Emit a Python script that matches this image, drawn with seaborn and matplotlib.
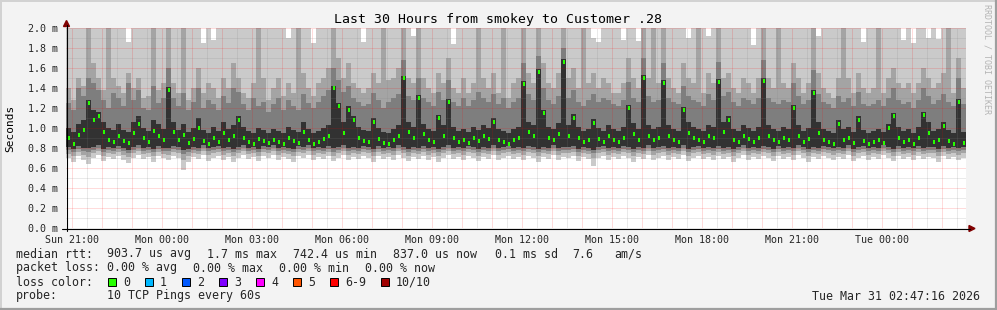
import numpy as np
import matplotlib
matplotlib.use("Agg")
import matplotlib.pyplot as plt
from matplotlib.patches import Rectangle, Polygon
from matplotlib.lines import Line2D
import seaborn as sns

# ---------------- data (values in hundredths of a millisecond) ----------------
# 180 samples, 10 minutes apart, starting Sun 20:47:16 (30 hours)
STEP_H = 1.0 / 6.0

median_rtt = [
    90, 84, 93, 98, 125, 108, 112, 96, 88, 86,
    92, 87, 85, 95, 104, 90, 86, 97, 92, 88,
    138, 96, 88, 93, 85, 89, 100, 87, 84, 90,
    86, 95, 88, 92, 108, 90, 86, 84, 89, 87,
    85, 88, 86, 84, 90, 87, 85, 96, 88, 84,
    86, 89, 92, 140, 122, 95, 118, 108, 90, 87,
    86, 106, 89, 85, 84, 88, 92, 150, 96, 90,
    130, 94, 88, 86, 110, 92, 126, 90, 86, 88,
    85, 90, 87, 92, 89, 106, 88, 86, 84, 88,
    90, 144, 96, 92, 156, 115, 90, 88, 94, 166,
    92, 110, 90, 86, 88, 105, 89, 86, 92, 88,
    86, 90, 120, 94, 88, 150, 92, 88, 90, 145,
    92, 88, 86, 118, 95, 90, 88, 86, 92, 90,
    146, 96, 108, 88, 86, 92, 89, 86, 90, 147,
    92, 88, 86, 90, 88, 120, 92, 86, 89, 135,
    95, 88, 86, 84, 104, 88, 90, 85, 108, 87,
    84, 86, 88, 85, 100, 112, 90, 86, 88, 84,
    90, 113, 95, 86, 88, 102, 87, 84, 126, 85,
]

# sorted pings: p1 (min) .. p10 (max)
smoke_p1 = [
    70, 66, 72, 68, 64, 70, 73, 67, 71, 69,
    72, 68, 65, 70, 73, 69, 71, 66, 72, 70,
    68, 72, 70, 58, 66, 71, 69, 73, 67, 70,
    72, 68, 71, 66, 70, 73, 69, 71, 67, 72,
    70, 73, 68, 71, 69, 66, 72, 70, 73, 68,
    71, 69, 72, 67, 70, 73, 68, 71, 69, 72,
    70, 66, 72, 69, 71, 68, 73, 70, 67, 71,
    69, 72, 68, 71, 66, 70, 73, 69, 71, 68,
    72, 70, 67, 71, 69, 73, 68, 70, 72, 69,
    71, 68, 72, 70, 66, 71, 69, 73, 68, 71,
    70, 72, 67, 71, 69, 62, 70, 72, 68, 71,
    69, 72, 70, 66, 71, 69, 73, 68, 70, 72,
    68, 71, 69, 73, 67, 70, 72, 69, 71, 68,
    72, 69, 71, 66, 70, 73, 68, 71, 69, 72,
    70, 67, 72, 69, 71, 68, 73, 70, 66, 71,
    69, 72, 70, 68, 71, 69, 73, 67, 70, 72,
    68, 71, 69, 73, 70, 67, 72, 69, 71, 68,
    72, 69, 71, 70, 66, 72, 69, 71, 68, 70,
]
smoke_p2 = [
    74, 72, 76, 73, 71, 75, 77, 72, 75, 74,
    76, 73, 71, 75, 77, 74, 75, 72, 76, 74,
    73, 76, 75, 68, 72, 75, 74, 77, 73, 75,
    76, 73, 75, 72, 75, 77, 74, 75, 72, 76,
    75, 77, 73, 75, 74, 72, 76, 75, 77, 73,
    75, 74, 76, 72, 75, 77, 73, 75, 74, 76,
    75, 72, 76, 74, 75, 73, 77, 75, 72, 75,
    74, 76, 73, 75, 72, 75, 77, 74, 75, 73,
    76, 75, 72, 75, 74, 77, 73, 75, 76, 74,
    75, 73, 76, 75, 72, 75, 74, 77, 73, 75,
    75, 76, 72, 75, 74, 70, 75, 76, 73, 75,
    74, 76, 75, 72, 75, 74, 77, 73, 75, 76,
    73, 75, 74, 77, 72, 75, 76, 74, 75, 73,
    76, 74, 75, 72, 75, 77, 73, 75, 74, 76,
    75, 72, 76, 74, 75, 73, 77, 75, 72, 75,
    74, 76, 75, 73, 75, 74, 77, 72, 75, 76,
    73, 75, 74, 77, 75, 72, 76, 74, 75, 73,
    76, 74, 75, 75, 72, 76, 74, 75, 73, 75,
]
smoke_p3 = [
    78, 76, 79, 77, 76, 78, 80, 76, 78, 77,
    79, 77, 75, 78, 80, 77, 78, 76, 79, 77,
    77, 79, 78, 74, 76, 78, 77, 80, 77, 78,
    79, 77, 78, 76, 78, 80, 77, 78, 76, 79,
    78, 80, 77, 78, 77, 76, 79, 78, 80, 77,
    78, 77, 79, 76, 78, 80, 77, 78, 77, 79,
    78, 76, 79, 77, 78, 77, 80, 78, 76, 78,
    77, 79, 77, 78, 76, 78, 80, 77, 78, 77,
    79, 78, 76, 78, 77, 80, 77, 78, 79, 77,
    78, 77, 79, 78, 76, 78, 77, 80, 77, 78,
    78, 79, 76, 78, 77, 75, 78, 79, 77, 78,
    77, 79, 78, 76, 78, 77, 80, 77, 78, 79,
    77, 78, 77, 80, 76, 78, 79, 77, 78, 77,
    79, 77, 78, 76, 78, 80, 77, 78, 77, 79,
    78, 76, 79, 77, 78, 77, 80, 78, 76, 78,
    77, 79, 78, 77, 78, 77, 80, 76, 78, 79,
    77, 78, 77, 80, 78, 76, 79, 77, 78, 77,
    79, 77, 78, 78, 76, 79, 77, 78, 77, 78,
]
smoke_p4 = [
    81, 79, 82, 80, 80, 81, 83, 79, 81, 80,
    82, 80, 78, 81, 83, 80, 81, 79, 82, 80,
    80, 82, 81, 78, 79, 81, 80, 83, 80, 81,
    82, 80, 81, 79, 81, 83, 80, 81, 79, 82,
    81, 83, 80, 81, 80, 79, 82, 81, 83, 80,
    81, 80, 82, 80, 81, 83, 80, 81, 80, 82,
    81, 79, 82, 80, 81, 80, 83, 81, 79, 81,
    80, 82, 80, 81, 79, 81, 83, 80, 81, 80,
    82, 81, 79, 81, 80, 83, 80, 81, 82, 80,
    81, 80, 82, 81, 79, 81, 80, 83, 80, 81,
    81, 82, 79, 81, 80, 78, 81, 82, 80, 81,
    80, 82, 81, 79, 81, 80, 83, 80, 81, 82,
    80, 81, 80, 83, 79, 81, 82, 80, 81, 80,
    82, 80, 81, 79, 81, 83, 80, 81, 80, 82,
    81, 79, 82, 80, 81, 80, 83, 81, 79, 81,
    80, 82, 81, 80, 81, 80, 83, 79, 81, 82,
    80, 81, 80, 83, 81, 79, 82, 80, 81, 80,
    82, 80, 81, 81, 79, 82, 80, 81, 80, 81,
]
smoke_p7 = [
    100, 96, 104, 108, 128, 118, 116, 106, 100, 98,
    104, 98, 96, 106, 112, 100, 97, 108, 104, 99,
    141, 106, 98, 104, 96, 100, 110, 98, 95, 101,
    97, 106, 99, 103, 112, 101, 97, 95, 100, 98,
    95, 99, 97, 95, 101, 98, 96, 106, 99, 95,
    97, 100, 103, 142, 125, 106, 122, 112, 101, 98,
    97, 110, 100, 96, 95, 99, 103, 152, 106, 101,
    133, 104, 99, 97, 113, 103, 129, 101, 97, 99,
    96, 101, 98, 103, 100, 110, 99, 97, 95, 99,
    101, 147, 106, 103, 159, 118, 101, 99, 105, 169,
    103, 114, 101, 97, 99, 109, 100, 97, 103, 99,
    97, 101, 123, 105, 99, 153, 103, 99, 101, 148,
    103, 99, 97, 121, 106, 101, 99, 97, 103, 101,
    149, 106, 112, 99, 97, 103, 100, 97, 101, 150,
    103, 99, 97, 101, 99, 123, 103, 97, 100, 138,
    106, 99, 97, 95, 108, 99, 101, 96, 112, 98,
    95, 97, 99, 96, 104, 115, 101, 97, 99, 95,
    101, 116, 106, 97, 99, 106, 98, 95, 129, 96,
]
smoke_p8 = [
    125, 118, 140, 132, 150, 145, 138, 128, 120, 135,
    130, 122, 145, 128, 138, 120, 118, 142, 125, 130,
    160, 130, 122, 135, 118, 126, 140, 120, 128, 124,
    118, 132, 125, 140, 136, 124, 118, 130, 122, 126,
    116, 124, 130, 118, 128, 122, 118, 134, 125, 120,
    126, 132, 138, 160, 148, 136, 142, 130, 126, 122,
    124, 135, 128, 120, 126, 130, 134, 168, 132, 128,
    150, 130, 126, 122, 136, 128, 148, 126, 122, 130,
    122, 128, 136, 130, 126, 134, 124, 130, 120, 126,
    130, 165, 134, 128, 172, 140, 128, 124, 132, 180,
    130, 138, 126, 122, 128, 134, 126, 130, 128, 124,
    122, 128, 146, 130, 126, 170, 132, 126, 128, 165,
    130, 126, 124, 142, 132, 128, 126, 122, 134, 128,
    166, 132, 136, 126, 122, 130, 128, 124, 130, 168,
    130, 126, 124, 128, 126, 145, 132, 124, 128, 158,
    134, 126, 124, 120, 132, 126, 130, 122, 136, 124,
    122, 124, 128, 122, 130, 140, 128, 124, 126, 120,
    128, 140, 132, 124, 128, 134, 126, 122, 150, 124,
]
smoke_p9 = [
    140, 128, 150, 142, 200, 165, 150, 138, 205, 150,
    142, 135, 155, 140, 150, 130, 132, 205, 138, 145,
    205, 145, 135, 210, 128, 140, 160, 135, 145, 140,
    130, 150, 140, 165, 150, 135, 130, 145, 205, 150,
    128, 140, 150, 132, 145, 135, 210, 155, 140, 132,
    145, 150, 160, 205, 170, 150, 165, 145, 140, 135,
    140, 155, 145, 205, 148, 150, 160, 210, 150, 145,
    200, 150, 140, 135, 155, 145, 170, 140, 135, 150,
    135, 145, 210, 150, 140, 155, 135, 205, 130, 145,
    150, 210, 155, 145, 210, 165, 145, 140, 155, 210,
    150, 160, 140, 210, 145, 155, 140, 150, 145, 135,
    135, 145, 170, 150, 140, 210, 150, 205, 145, 205,
    150, 140, 135, 165, 150, 145, 210, 135, 155, 145,
    205, 150, 155, 140, 135, 150, 145, 135, 150, 205,
    150, 140, 205, 145, 140, 165, 150, 135, 145, 200,
    155, 140, 135, 130, 150, 210, 150, 135, 155, 140,
    135, 140, 205, 135, 150, 160, 145, 140, 145, 135,
    145, 160, 150, 140, 145, 155, 210, 135, 170, 140,
]
smoke_p10 = [
    210, 210, 210, 210, 210, 210, 210, 210, 210, 210,
    210, 210, 186, 210, 210, 210, 210, 210, 210, 210,
    210, 210, 210, 210, 210, 210, 210, 185, 210, 188,
    210, 210, 210, 210, 210, 210, 210, 210, 210, 210,
    210, 210, 210, 210, 190, 210, 210, 210, 210, 185,
    210, 210, 210, 210, 210, 210, 210, 210, 210, 186,
    210, 210, 210, 210, 210, 210, 210, 210, 210, 192,
    210, 210, 210, 210, 210, 210, 210, 184, 210, 210,
    210, 210, 210, 210, 210, 210, 210, 210, 210, 210,
    210, 210, 210, 210, 210, 210, 210, 210, 210, 210,
    210, 210, 210, 210, 210, 190, 186, 210, 210, 210,
    210, 188, 210, 210, 187, 210, 210, 210, 210, 210,
    210, 210, 210, 210, 190, 210, 210, 210, 192, 210,
    210, 210, 210, 210, 210, 210, 210, 183, 210, 210,
    210, 210, 210, 210, 210, 210, 210, 210, 210, 210,
    192, 210, 210, 210, 210, 210, 210, 210, 210, 186,
    210, 210, 210, 210, 210, 210, 210, 188, 210, 185,
    210, 210, 190, 210, 189, 210, 210, 210, 210, 210,
]

x_tick_labels = ["Sun 21:00", "Mon 00:00", "Mon 03:00", "Mon 06:00", "Mon 09:00",
                 "Mon 12:00", "Mon 15:00", "Mon 18:00", "Mon 21:00", "Tue 00:00"]
y_tick_values = [0.0, 0.2, 0.4, 0.6, 0.8, 1.0, 1.2, 1.4, 1.6, 1.8, 2.0]
y_tick_labels = ["0.0 m", "0.2 m", "0.4 m", "0.6 m", "0.8 m", "1.0 m",
                 "1.2 m", "1.4 m", "1.6 m", "1.8 m", "2.0 m"]

loss_labels = ["0", "1", "2", "3", "4", "5", "6-9", "10/10"]
loss_colors = ["#26ff00", "#00b8ff", "#0059ff", "#7e00ff", "#ff00ff",
               "#ff5500", "#ff0000", "#a00000"]

title = "Last 30 Hours from smokey to Customer .28"
median_line = ["median rtt:", "903.7 us avg", "1.7 ms max", "742.4 us min",
               "837.0 us now", "0.1 ms sd", "7.6", "am/s"]
loss_line = ["packet loss:", "0.00 % avg", "0.00 % max", "0.00 % min", "0.00 % now"]
probe_line = ["probe:", "10 TCP Pings every 60s"]
stamp = "Tue Mar 31 02:47:16 2026"

# ---------------- drawing ----------------
sns.set_style("white")
plt.rcParams["font.family"] = ["DejaVu Sans Mono"]

W, H = 997, 310
def fx(px):
    return px / W
def fy(py):
    return 1 - py / H

fig = plt.figure(figsize=(W / 100, H / 100), dpi=100, facecolor="#f3f3f3")
ax = fig.add_axes([66 / W, 82 / H, 900 / W, 200 / H])
ax.set_facecolor("white")

t = np.arange(len(median_rtt)) * STEP_H
layers = [
    (smoke_p1, smoke_p10, "#cacaca"),
    (smoke_p2, smoke_p9, "#a4a4a4"),
    (smoke_p3, smoke_p8, "#7e7e7e"),
    (smoke_p4, smoke_p7, "#323232"),
]
for lo, hi, col in layers:
    lo = np.asarray(lo) / 100.0
    hi = np.asarray(hi) / 100.0
    ax.bar(t, hi - lo, bottom=lo, width=STEP_H, align="edge", color=col,
           linewidth=0, zorder=1)

med = np.asarray(median_rtt) / 100.0
marker_verts = [(-0.6, -1), (0.6, -1), (0.6, 1), (-0.6, 1)]
sns.scatterplot(x=t + STEP_H / 2, y=med, marker=marker_verts, s=6,
                color=loss_colors[0], linewidth=0, ax=ax, zorder=3, legend=False)

ax.set_xlim(0, 30)
ax.set_ylim(0, 2.0)

hour0 = 12.73 / 60.0
major_x = hour0 + np.arange(30)
minor_x = hour0 + 0.5 + np.arange(30)
minor_x = minor_x[minor_x < 30]
ax.set_xticks(major_x)
ax.set_xticklabels([x_tick_labels[k // 3] if k % 3 == 0 else "" for k in range(30)])
ax.set_xticks(minor_x, minor=True)
ax.set_yticks(y_tick_values)
ax.set_yticklabels(y_tick_labels)
ax.set_yticks(np.arange(0.1, 2.0, 0.2), minor=True)

ax.set_axisbelow(False)
ax.grid(True, which="major", color="#ff0000", alpha=0.28,
        linestyle=(0, (1, 1)), linewidth=0.72)
ax.grid(True, which="minor", color="#808080", alpha=0.32,
        linestyle=(0, (1, 1)), linewidth=0.72)

ax.tick_params(axis="x", which="major", length=2, width=0.72, color="#ff9090",
               labelsize=7.2, pad=3, direction="out")
ax.tick_params(axis="x", which="minor", length=2, width=0.72, color="#c0c0c0",
               direction="out")
ax.tick_params(axis="y", which="major", length=3, width=0.72, color="#000000",
               labelsize=7.2, pad=2.5, direction="out")
ax.tick_params(axis="y", which="minor", length=2, width=0.72, color="#c0c0c0",
               direction="out")
for sp in ax.spines.values():
    sp.set_visible(False)

# axis lines and arrows
fig.add_artist(Line2D([fx(66.5), fx(66.5)], [fy(231), fy(25)], color="black", lw=0.8))
fig.add_artist(Line2D([fx(62), fx(970)], [fy(228.5), fy(228.5)], color="black", lw=0.8))
fig.add_artist(Polygon([[fx(63.5), fy(26.5)], [fx(69.5), fy(26.5)], [fx(66.5), fy(20.5)]],
                       closed=True, color="#800000", transform=fig.transFigure))
fig.add_artist(Polygon([[fx(969), fy(225.5)], [fx(969), fy(231.5)], [fx(975), fy(228.5)]],
                       closed=True, color="#800000", transform=fig.transFigure))

# frame shading
fig.add_artist(Line2D([0, 1], [fy(0.8), fy(0.8)], color="#d2d2d2", lw=1.4))
fig.add_artist(Line2D([fx(0.8), fx(0.8)], [0, 1], color="#d2d2d2", lw=1.4))
fig.add_artist(Line2D([0, 1], [fy(309), fy(309)], color="#9e9e9e", lw=1.6))
fig.add_artist(Line2D([fx(996), fx(996)], [0, 1], color="#9e9e9e", lw=1.6))

# texts
fig.text(fx(498), fy(19.5), title, ha="center", va="center", fontsize=9.5, color="black")
fig.text(fx(10), fy(128), "Seconds", rotation=90, ha="center", va="center",
         fontsize=8.0, color="black")
fig.text(fx(987), fy(4), "RRDTOOL / TOBI OETIKER", rotation=270, ha="center",
         va="top", fontsize=6.0, color="#b4b4b4")

LEG = 8.35
for xp, s in zip([16, 107, 207, 293, 393, 495, 572, 614], median_line):
    fig.text(fx(xp), fy(254), s, ha="left", va="center", fontsize=LEG)
for xp, s in zip([16, 107, 193, 279, 365], loss_line):
    fig.text(fx(xp), fy(268), s, ha="left", va="center", fontsize=LEG)
fig.text(fx(16), fy(282), "loss color:", ha="left", va="center", fontsize=LEG)
box_x = [108, 145, 182, 219, 256, 293, 330, 381]
for bx, lab, col in zip(box_x, loss_labels, loss_colors):
    fig.add_artist(Rectangle((fx(bx), fy(286)), 8 / W, 8 / H, facecolor=col,
                             edgecolor="black", linewidth=0.7,
                             transform=fig.transFigure))
    fig.text(fx(bx + 15), fy(282), lab, ha="left", va="center", fontsize=LEG)
for xp, s in zip([16, 107], probe_line):
    fig.text(fx(xp), fy(296), s, ha="left", va="center", fontsize=LEG)
fig.text(fx(980), fy(296), stamp, ha="right", va="center", fontsize=LEG)

fig.savefig("out.png", dpi=100, facecolor=fig.get_facecolor())
